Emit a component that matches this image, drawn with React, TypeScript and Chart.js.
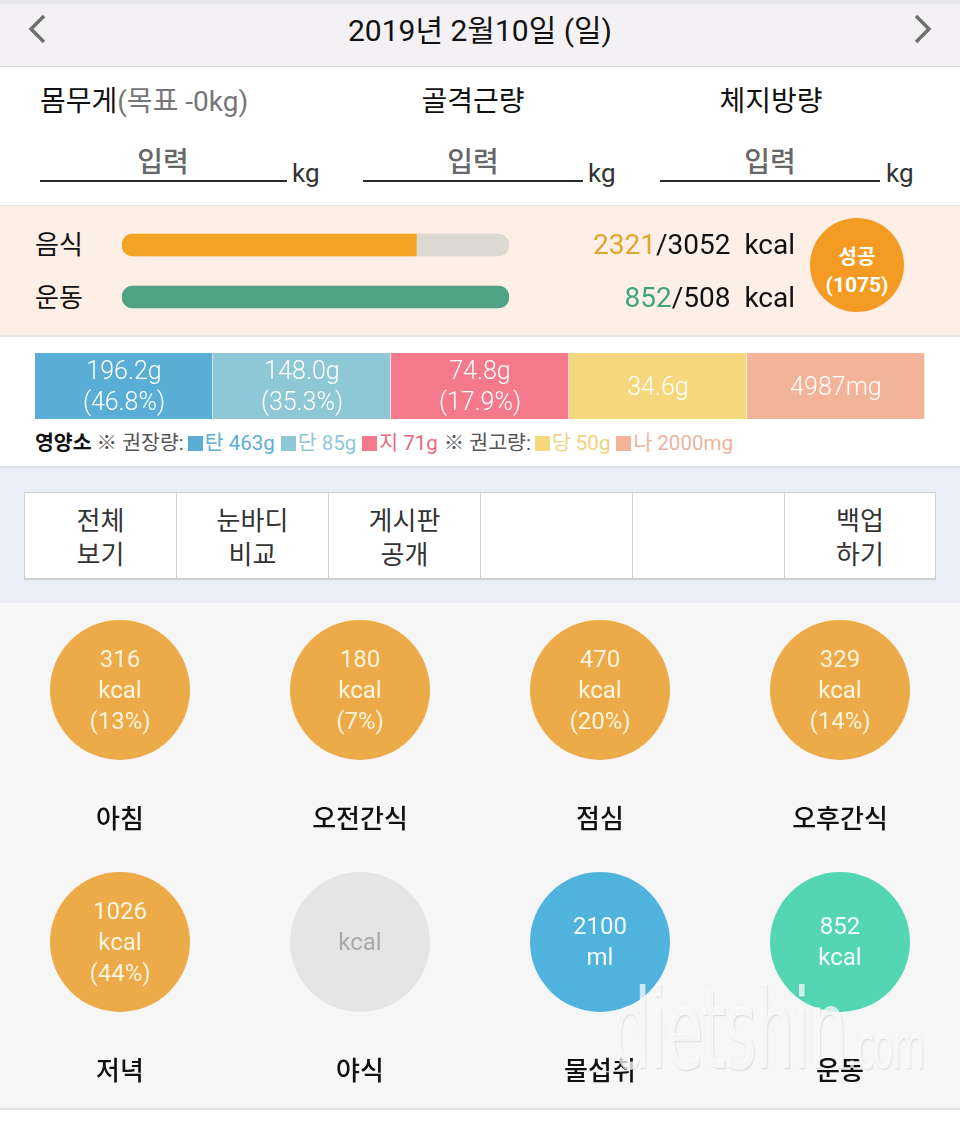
import React, { useEffect, useRef } from "react";
import { Chart, registerables } from "chart.js";

Chart.register(...registerables);

// ---------- data ----------
const dateLabel = "2019년 2월10일 (일)";
const bodyLabels = ["몸무게", "골격근량", "체지방량"];
const bodyGoal = "(목표 -0kg)";
const calorieLabels = ["음식", "운동"];
const calorieValues = [2321, 852];
const calorieGoals = [3052, 508];
const calorieColors = ["#f4a424", "#4fa385"];
const calorieTextColors = ["#e0a52e", "#3fa67c"];
const successLabel = "성공";
const successValue = 1075;
const nutrientNames = ["탄수화물", "단백질", "지방", "당", "나트륨"];
const nutrientValues = [196.2, 148.0, 74.8, 34.6, 4987];
const nutrientUnits = ["g", "g", "g", "g", "mg"];
const nutrientShares = [46.8, 35.3, 17.9, null, null];
const nutrientColors = ["#5aaed6", "#8ec8d7", "#f47a8b", "#f5d77e", "#f3b399"];
const recommendLabels = ["탄 463g", "단 85g", "지 71g"];
const recommendColors = ["#5aaed6", "#8ec8d7", "#e8697d"];
const limitLabels = ["당 50g", "나 2000mg"];
const limitColors = ["#f0d37c", "#edb49c"];
const menuLabels = [["전체", "보기"], ["눈바디", "비교"], ["게시판", "공개"], [], [], ["백업", "하기"]];
const mealNames = ["아침", "오전간식", "점심", "오후간식", "저녁", "야식", "물섭취", "운동"];
const mealValues = [316, 180, 470, 329, 1026, null, 2100, 852];
const mealUnits = ["kcal", "kcal", "kcal", "kcal", "kcal", "kcal", "ml", "kcal"];
const mealShares = [13, 7, 20, 14, 44, null, null, null];
const mealColors = ["#ecab48", "#ecab48", "#ecab48", "#ecab48", "#ecab48", "#e5e5e5", "#50b3de", "#55d6b3"];
const mealTextColors = ["#fff4dc", "#fff4dc", "#fff4dc", "#fff4dc", "#fff4dc", "#a9a9a9", "#f2fbff", "#f2fffb"];

const FONT = 'Roboto, "Noto Sans CJK KR", sans-serif';
const KFONT = '"Noto Sans CJK KR", Roboto, sans-serif';

const abs = (left: number, top: number, extra: React.CSSProperties = {}): React.CSSProperties => ({
  position: "absolute",
  left,
  top,
  ...extra,
});

export default function App() {
  const barRef = useRef<HTMLCanvasElement>(null);
  const nutRef = useRef<HTMLCanvasElement>(null);
  const mealRef = useRef<HTMLCanvasElement>(null);

  useEffect(() => {
    const ratios = calorieValues.map((v, i) => Math.min(100, (v / calorieGoals[i]) * 100));
    const barChart = new Chart(barRef.current!, {
      type: "bar",
      data: {
        labels: calorieLabels,
        datasets: [
          {
            data: calorieLabels.map(() => 100),
            backgroundColor: "#dcd8d2",
            grouped: false,
            order: 2,
            borderRadius: 11,
            borderSkipped: false,
            barThickness: 22,
          } as any,
          {
            data: ratios,
            backgroundColor: calorieColors,
            grouped: false,
            order: 1,
            borderSkipped: false,
            borderRadius: (c: any) =>
              ratios[c.dataIndex] >= 100
                ? 11
                : { topLeft: 11, bottomLeft: 11, topRight: 0, bottomRight: 0 },
            barThickness: 22,
          } as any,
        ],
      },
      options: {
        indexAxis: "y",
        animation: false,
        responsive: false,
        maintainAspectRatio: false,
        layout: { padding: 0, autoPadding: false } as any,
        plugins: { legend: { display: false }, tooltip: { enabled: false } },
        scales: {
          x: { display: false, min: 0, max: 100 },
          y: { display: false },
        },
      },
    });

    const nutChart = new Chart(nutRef.current!, {
      type: "bar",
      data: {
        labels: nutrientNames,
        datasets: [
          {
            data: nutrientNames.map(() => 1),
            backgroundColor: nutrientColors,
            borderColor: "#ffffff",
            borderWidth: { left: 0, right: 1, top: 0, bottom: 0 },
            borderSkipped: false,
            barPercentage: 1,
            categoryPercentage: 1,
          } as any,
        ],
      },
      options: {
        animation: false,
        responsive: false,
        maintainAspectRatio: false,
        layout: { padding: 0, autoPadding: false } as any,
        plugins: { legend: { display: false }, tooltip: { enabled: false } },
        scales: {
          x: { display: false },
          y: { display: false, min: 0, max: 1 },
        },
      },
    });

    const mealChart = new Chart(mealRef.current!, {
      type: "scatter",
      data: {
        datasets: [
          {
            data: mealNames.map((_, i) => ({ x: (i % 4) + 0.5, y: Math.floor(i / 4) })),
            pointRadius: 70,
            pointHoverRadius: 70,
            pointBackgroundColor: mealColors,
            pointBorderWidth: 0,
            pointBorderColor: "rgba(0,0,0,0)",
            clip: false,
          } as any,
        ],
      },
      options: {
        animation: false,
        responsive: false,
        maintainAspectRatio: false,
        layout: { padding: 0, autoPadding: false } as any,
        plugins: { legend: { display: false }, tooltip: { enabled: false } },
        scales: {
          x: { display: false, min: 0, max: 4 },
          y: { display: false, reverse: true, min: -0.345, max: 1.659 },
        },
      },
    });

    return () => {
      barChart.destroy();
      nutChart.destroy();
      mealChart.destroy();
    };
  }, []);

  const bodyCenters = [473, 771];
  const inputCenters = [163, 473, 770];
  const lines = [
    [40, 287, 292],
    [363, 583, 588],
    [660, 880, 886],
  ];

  return (
    <div
      style={{
        position: "absolute",
        left: 0,
        top: 0,
        width: 960,
        height: 1122,
        overflow: "hidden",
        background: "#ffffff",
        fontFamily: FONT,
        color: "#111",
      }}
    >
      {/* header */}
      <div style={abs(0, 0, { width: 960, height: 66, background: "#f4f1f4" })} />
      <div style={abs(0, 0, { width: 960, height: 4, background: "#e9e8ec" })} />
      <div style={abs(0, 66, { width: 960, height: 1, background: "#d6d6d6" })} />
      <svg style={abs(26, 14)} width="24" height="30">
        <polyline points="18,2 5,15 18,28" fill="none" stroke="#6f6f6f" strokeWidth="3.5" />
      </svg>
      <svg style={abs(910, 14)} width="24" height="30">
        <polyline points="6,2 19,15 6,28" fill="none" stroke="#6f6f6f" strokeWidth="3.5" />
      </svg>
      <div
        style={abs(0, 11, {
          width: 960,
          height: 40,
          lineHeight: "40px",
          textAlign: "center",
          fontSize: 30,
          color: "#111",
        })}
      >
        {dateLabel}
      </div>

      {/* body measurements */}
      <div style={abs(40, 82, { height: 40, lineHeight: "40px", fontSize: 28, whiteSpace: "nowrap" })}>
        {bodyLabels[0]}
        <span style={{ color: "#777" }}>{bodyGoal}</span>
      </div>
      {bodyCenters.map((c, i) => (
        <div
          key={"bl" + i}
          style={abs(c - 100, 82, { width: 200, height: 40, lineHeight: "40px", fontSize: 28, textAlign: "center" })}
        >
          {bodyLabels[i + 1]}
        </div>
      ))}
      {inputCenters.map((c, i) => (
        <div
          key={"in" + i}
          style={abs(c - 60, 140, {
            width: 120,
            height: 40,
            lineHeight: "40px",
            fontSize: 28,
            fontWeight: 500,
            textAlign: "center",
            color: "#676767",
            fontFamily: KFONT,
          })}
        >
          입력
        </div>
      ))}
      {lines.map(([a, b, k], i) => (
        <React.Fragment key={"ln" + i}>
          <div style={abs(a, 180, { width: b - a, height: 2, background: "#2a2a2a" })} />
          <div style={abs(k, 155, { height: 36, lineHeight: "36px", fontSize: 26, color: "#333" })}>kg</div>
        </React.Fragment>
      ))}

      {/* calories */}
      <div style={abs(0, 205, { width: 960, height: 1, background: "#ece6e2" })} />
      <div style={abs(0, 206, { width: 960, height: 129, background: "#fdeee6" })} />
      <div style={abs(0, 335, { width: 960, height: 2, background: "#e9e7e7" })} />
      {calorieLabels.map((l, i) => (
        <div
          key={"cl" + i}
          style={abs(35, (i === 0 ? 245 : 298) - 20, { height: 40, lineHeight: "40px", fontSize: 26 })}
        >
          {l}
        </div>
      ))}
      <canvas ref={barRef} width={387} height={104} style={abs(122, 219, { width: 387, height: 104 })} />
      {calorieValues.map((v, i) => (
        <div
          key={"cv" + i}
          style={abs(0, (i === 0 ? 245 : 298) - 20, {
            width: 795,
            textAlign: "right",
            height: 40,
            lineHeight: "40px",
            fontSize: 28,
            whiteSpace: "pre",
            color: "#111",
          })}
        >
          <span style={{ color: calorieTextColors[i] }}>{v}</span>/{calorieGoals[i]}  kcal
        </div>
      ))}
      <div
        style={abs(810, 218, {
          width: 94,
          height: 94,
          borderRadius: "50%",
          background: "#f39b22",
          color: "#fff",
          display: "flex",
          flexDirection: "column",
          alignItems: "center",
          justifyContent: "center",
          fontWeight: 700,
          fontSize: 20,
          lineHeight: "28px",
          boxSizing: "border-box",
          paddingTop: 12,
        })}
      >
        <div>{successLabel}</div>
        <div style={{ fontSize: 21 }}>({successValue})</div>
      </div>

      {/* nutrients */}
      <canvas ref={nutRef} width={890} height={66} style={abs(35, 353, { width: 890, height: 66 })} />
      <div style={abs(35, 353, { width: 890, height: 66, display: "flex" })}>
        {nutrientNames.map((n, i) => (
          <div
            key={"nt" + i}
            style={{
              flex: 1,
              display: "flex",
              flexDirection: "column",
              alignItems: "center",
              justifyContent: "center",
              color: "#fff",
              fontSize: 25,
              fontWeight: 300,
              lineHeight: "31px",
            }}
          >
            <div>
              {nutrientValues[i].toFixed(i === 4 ? 0 : 1)}
              {nutrientUnits[i]}
            </div>
            {nutrientShares[i] !== null && <div>({nutrientShares[i]!.toFixed(1)}%)</div>}
          </div>
        ))}
      </div>
      <div
        style={abs(35, 430, {
          height: 26,
          lineHeight: "26px",
          fontSize: 20.5,
          whiteSpace: "nowrap",
          color: "#555",
          display: "flex",
          alignItems: "center",
        })}
      >
        <span style={{ fontWeight: 700, color: "#111", marginRight: 5 }}>영양소</span>
        <span style={{ marginRight: 4 }}>※ 권장량:</span>
        {recommendLabels.map((l, i) => (
          <React.Fragment key={"rl" + i}>
            <span style={{ display: "inline-block", width: 15, height: 15, background: nutrientColors[i], marginRight: 2 }} />
            <span style={{ color: recommendColors[i], marginRight: 6 }}>{l}</span>
          </React.Fragment>
        ))}
        <span style={{ marginRight: 4 }}>※ 권고량:</span>
        {limitLabels.map((l, i) => (
          <React.Fragment key={"ll" + i}>
            <span
              style={{ display: "inline-block", width: 15, height: 15, background: nutrientColors[i + 3], marginRight: 2 }}
            />
            <span style={{ color: limitColors[i], marginRight: 6 }}>{l}</span>
          </React.Fragment>
        ))}
      </div>
      <div style={abs(0, 466, { width: 960, height: 2, background: "#dfe0e7" })} />

      {/* menu */}
      <div style={abs(0, 468, { width: 960, height: 135, background: "#eceef6" })} />
      <div
        style={abs(24, 492, {
          width: 912,
          height: 88,
          boxSizing: "border-box",
          border: "1px solid #cfcfcf",
          borderBottom: "2px solid #cdcdcd",
          background: "#fff",
          display: "flex",
        })}
      >
        {menuLabels.map((m, i) => (
          <div
            key={"mn" + i}
            style={{
              width: i === 5 ? 150 : 152,
              height: "100%",
              boxSizing: "border-box",
              borderRight: i === 5 ? "none" : "1px solid #d2d2d2",
              display: "flex",
              flexDirection: "column",
              alignItems: "center",
              justifyContent: "center",
              fontSize: 26,
              lineHeight: "34px",
              color: "#333",
              fontFamily: KFONT,
            }}
          >
            {m.map((t, j) => (
              <div key={j}>{t}</div>
            ))}
          </div>
        ))}
      </div>

      {/* meals */}
      <div style={abs(0, 603, { width: 960, height: 505, background: "#f6f6f6" })} />
      <canvas ref={mealRef} width={960} height={505} style={abs(0, 603, { width: 960, height: 505 })} />
      {mealNames.map((n, i) => {
        const cx = 120 + 240 * (i % 4);
        const cy = 690 + 252 * Math.floor(i / 4);
        const v = mealValues[i];
        return (
          <React.Fragment key={"ml" + i}>
            <div
              style={abs(cx - 70, cy - 70, {
                width: 140,
                height: 140,
                display: "flex",
                flexDirection: "column",
                alignItems: "center",
                justifyContent: "center",
                fontSize: 24,
                fontWeight: 400,
                lineHeight: "31px",
                color: mealTextColors[i],
              })}
            >
              {v !== null && <div>{v}</div>}
              <div>{mealUnits[i]}</div>
              {mealShares[i] !== null && <div>({mealShares[i]}%)</div>}
            </div>
            <div
              style={abs(cx - 100, cy + 107, {
                width: 200,
                height: 40,
                lineHeight: "40px",
                textAlign: "center",
                fontSize: 26,
                fontWeight: 500,
                color: "#111",
                fontFamily: KFONT,
              })}
            >
              {n}
            </div>
          </React.Fragment>
        );
      })}
      <div
        style={abs(612, 975, {
          fontSize: 110,
          lineHeight: "110px",
          fontFamily: '"Liberation Sans Narrow", "DejaVu Sans Condensed", sans-serif',
          color: "rgba(255,255,255,0.75)",
          textShadow: "1px 1px 2px rgba(0,0,0,0.12)",
          transform: "scaleX(0.62)",
          transformOrigin: "left top",
          whiteSpace: "nowrap",
          letterSpacing: -2,
        })}
      >
        dietshin<span style={{ fontSize: 60 }}>.com</span>
      </div>
      <div style={abs(0, 1108, { width: 960, height: 2, background: "#e3e3e3" })} />
    </div>
  );
}
